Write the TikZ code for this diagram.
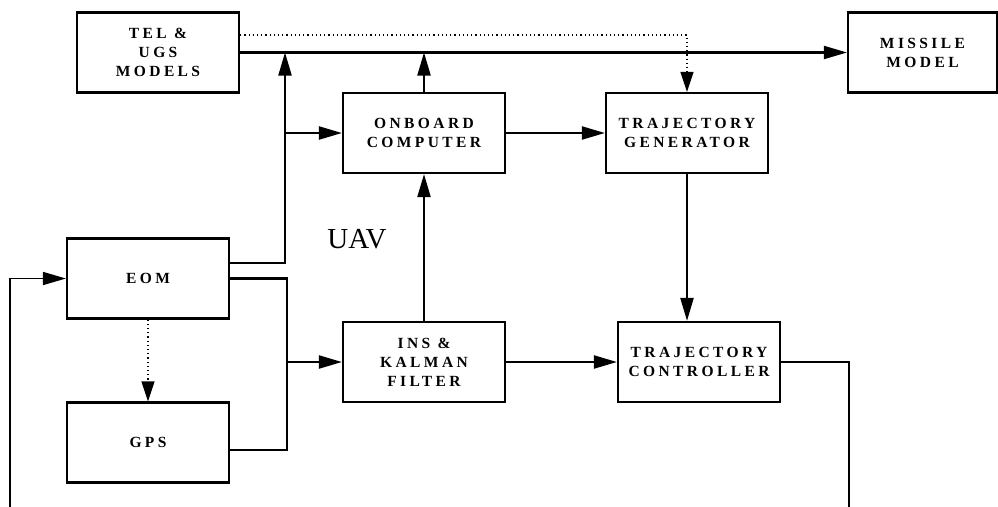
\documentclass[tikz,border=0pt]{standalone}
\usepackage{fontspec}
\setmainfont{Liberation Serif}
\newfontfamily\boxfont[LetterSpace=22]{Liberation Serif}
\usetikzlibrary{calc}
\usetikzlibrary{positioning}
\usetikzlibrary{arrows.meta}

\tikzset{
  blockbox/.style = {draw, line width=2.2pt, minimum width=162pt, minimum height=80pt,
                     align=center, inner sep=2pt, font=\boxfont\bfseries\fontsize{15.5}{19}\selectfont},
  flow/.style     = {line width=2.2pt, -{Triangle[length=23pt, width=13pt]}},
  link/.style     = {line width=2.2pt},
  hint/.style     = {line width=1.2pt, dash pattern=on 1.2pt off 3pt, -{Triangle[length=20pt, width=13pt]}}
}

\begin{document}
\begin{tikzpicture}[x=1pt, y=-1pt]
      \useasboundingbox (0,0) rectangle (998,506);

      \node[blockbox] (tel)      at (158,52.5)  {TEL \&\\UGS\\MODELS};
      \node[blockbox, minimum width=149pt] (missile) at (922.5,52.5) {MISSILE\\MODEL};
      \node[blockbox] (onboard)  at (424,133)   {ONBOARD\\COMPUTER};
      \node[blockbox] (trajgen)  at (687,133)   {TRAJECTORY\\GENERATOR};
      \node[blockbox] (eom)      at (148,278.5) {EOM};
      \node[blockbox] (gps)      at (148,442.5) {GPS};
      \node[blockbox] (ins)      at (424,362)   {INS \&\\KALMAN\\FILTER};
      \node[blockbox] (trajctrl) at (699,362)   {TRAJECTORY\\CONTROLLER};
      \node[font=\fontsize{29}{32}\selectfont] (uav) at (357,239) {UAV};

      \coordinate (j1) at (285,52.5);
      \coordinate (j2) at (onboard.north |- tel.east);
      \coordinate (j3) at (287,362);
      \coordinate (c1) at (849,510);
      \coordinate (c2) at (10,510);

      % top bus
      \draw[flow] (tel.east) -- (missile.west);
      \draw[hint] ([yshift=17.5pt]tel.east) -| (trajgen.north);
      \draw[flow] ([yshift=15.5pt]eom.east) -| (j1);
      \draw[flow] (j1 |- onboard.west) -- (onboard.west);
      \draw[flow] (onboard.north) -- (j2);
      \draw[flow] (onboard.east) -- (trajgen.west);
      \draw[flow] (trajgen.south) -- (trajgen.south |- trajctrl.north);

      % sensors
      \draw[hint] (eom.south) -- (gps.north);
      \draw[link] (eom.east) -| (j3) |- ([yshift=-7.5pt]gps.east);
      \draw[flow] (j3) -- (ins.west);
      \draw[flow] (ins.north) -- (onboard.south);
      \draw[flow] (ins.east) -- (trajctrl.west);

      % feedback
      \draw[flow, line width=1.6pt] (trajctrl.east) -| (c1) -- (c2) |- (eom.west);
    \end{tikzpicture}
\end{document}
